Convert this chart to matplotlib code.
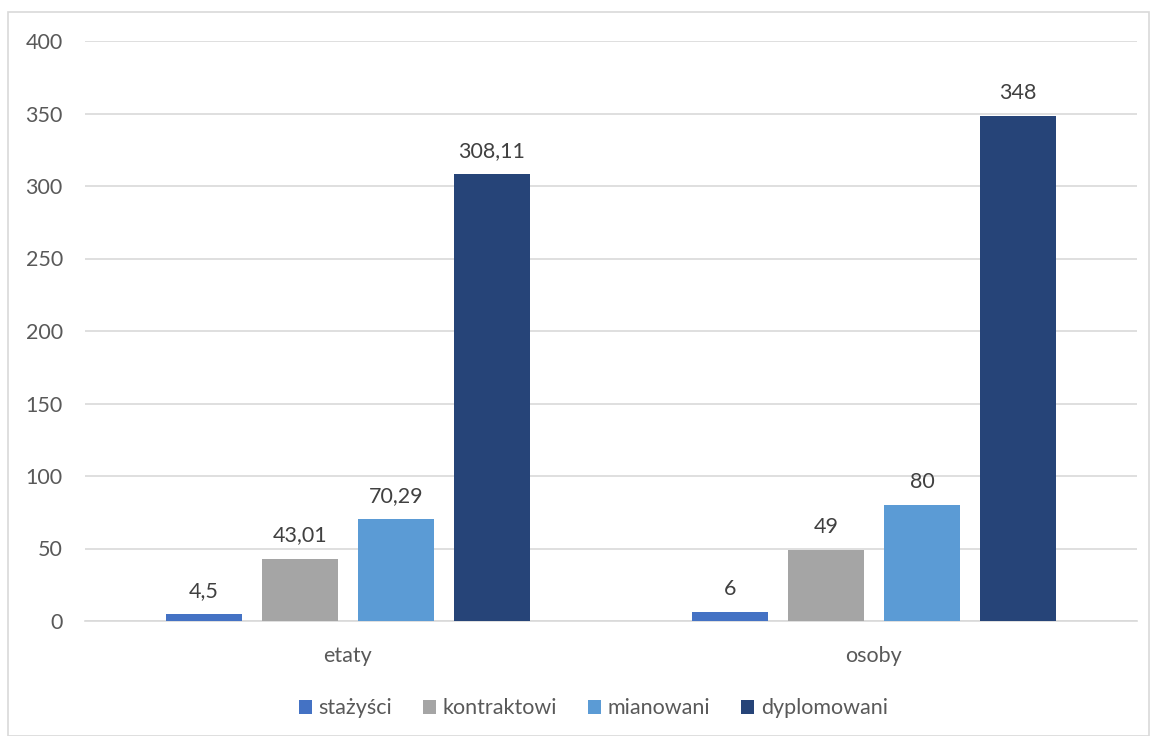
import matplotlib.pyplot as plt
import numpy as np
from matplotlib.patches import Rectangle

categories = ['etaty', 'osoby']
series = ['stażyści', 'kontraktowi', 'mianowani', 'dyplomowani']
stazysci = [4.5, 6]
kontraktowi = [43.01, 49]
mianowani = [70.29, 80]
dyplomowani = [308.11, 348]
labels = [['4,5', '6'], ['43,01', '49'], ['70,29', '80'], ['308,11', '348']]

colors = ['#4472C4', '#A5A5A5', '#5B9BD5', '#264478']

plt.rcParams['font.family'] = ['Lato', 'DejaVu Sans']
fs = 15.5

fig = plt.figure(figsize=(11.53, 7.36), dpi=100)
ax = fig.add_axes([85 / 1153, 1 - 621 / 736, (1137 - 85) / 1153, (621 - 41) / 736])

# frame around the whole chart
fig.patches.append(Rectangle((8 / 1153, 0), 1141 / 1153, 1 - 12 / 736, transform=fig.transFigure,
                             fill=False, edgecolor='#D9D9D9', linewidth=1.2))

x = np.arange(len(categories))
width = 0.143
step = 0.1825
data = [stazysci, kontraktowi, mianowani, dyplomowani]
for i, vals in enumerate(data):
    pos = x + (i - 1.5) * step
    ax.bar(pos, vals, width, color=colors[i], label=series[i], zorder=3)
    for p, v, t in zip(pos, vals, labels[i]):
        ax.text(p, v + 9, t, ha='center', va='bottom', fontsize=fs, color='#404040')

ax.set_xlim(-0.5, 1.5)
ax.set_ylim(0, 400)
ax.set_yticks(range(0, 401, 50))
ax.set_xticks(x)
ax.set_xticklabels(categories)
ax.grid(axis='y', color='#D9D9D9', linewidth=1.2, zorder=0)
for s in ['top', 'right', 'left']:
    ax.spines[s].set_visible(False)
ax.spines['bottom'].set_color('#D9D9D9')
ax.spines['bottom'].set_linewidth(1.2)
ax.tick_params(axis='both', length=0, labelsize=fs, labelcolor='#595959')
ax.tick_params(axis='y', pad=16)
ax.tick_params(axis='x', pad=18)

ax.legend(loc='upper center', bbox_to_anchor=(0.483, -0.1), ncol=4, frameon=False,
          fontsize=fs, handlelength=0.6, handleheight=0.6, handletextpad=0.3,
          columnspacing=1.45, labelcolor='#595959')

fig.savefig('out.png', dpi=100)
